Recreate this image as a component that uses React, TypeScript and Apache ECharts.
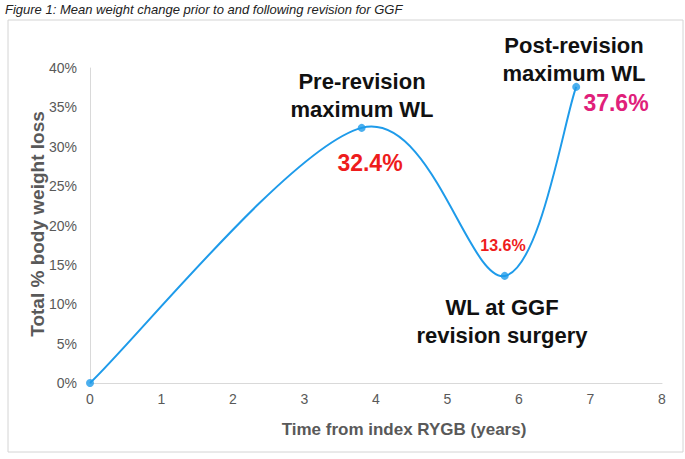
import React, { useEffect, useRef } from "react";
import * as echarts from "echarts";

const years = [0, 3.8, 5.8, 6.8];
const weightLoss = [0, 32.4, 13.6, 37.6];
const xTicks = [0, 1, 2, 3, 4, 5, 6, 7, 8];
const yTicks = [0, 5, 10, 15, 20, 25, 30, 35, 40];

const titleText = "Figure 1: Mean weight change prior to and following revision for GGF";
const font = "'Liberation Sans', Arial, Helvetica, sans-serif";
const blue = "#1E9BEA";

export default function App() {
  const ref = useRef<HTMLDivElement>(null);
  useEffect(() => {
    document.body.style.margin = "0";
    const chart = echarts.init(ref.current!, null, { renderer: "svg" });
    const data = years.map((x, i) => [x, weightLoss[i]]);

    const renderCurve = (params: any, api: any) => {
      if (params.dataIndex !== 0) return null;
      const pts = data.map((d) => api.coord(d));
      const n = pts.length;
      const P = (i: number) => pts[Math.max(0, Math.min(n - 1, i))];
      let d = `M${pts[0][0]},${pts[0][1]}`;
      for (let i = 0; i < n - 1; i++) {
        const p0 = P(i - 1), p1 = P(i), p2 = P(i + 1), p3 = P(i + 2);
        const c1x = p1[0] + (p2[0] - p0[0]) / 6;
        const c1y = p1[1] + (p2[1] - p0[1]) / 6;
        const c2x = p2[0] - (p3[0] - p1[0]) / 6;
        const c2y = p2[1] - (p3[1] - p1[1]) / 6;
        d += ` C${c1x},${c1y} ${c2x},${c2y} ${p2[0]},${p2[1]}`;
      }
      return {
        type: "path",
        shape: { pathData: d },
        style: { fill: "none", stroke: blue, lineWidth: 2 },
      };
    };

    chart.setOption({
      animation: false,
      backgroundColor: "#ffffff",
      textStyle: { fontFamily: font },
      grid: { left: 90, right: 23, top: 68, bottom: 76 },
      xAxis: {
        type: "value",
        min: xTicks[0],
        max: xTicks[xTicks.length - 1],
        interval: 1,
        axisLine: { show: true, lineStyle: { color: "#d9d9d9", width: 1 } },
        axisTick: { show: false },
        splitLine: { show: false },
        axisLabel: { color: "#595959", fontSize: 14, margin: 9, fontFamily: font },
      },
      yAxis: {
        type: "value",
        min: yTicks[0],
        max: yTicks[yTicks.length - 1],
        interval: 5,
        axisLine: { show: true, lineStyle: { color: "#d9d9d9", width: 1 } },
        axisTick: { show: false },
        splitLine: { show: false },
        axisLabel: { color: "#595959", fontSize: 14, margin: 13, formatter: "{value}%", fontFamily: font },
      },
      series: [
        {
          type: "custom",
          data,
          renderItem: renderCurve,
          clip: false,
          z: 2,
        },
        {
          type: "scatter",
          data,
          symbol: "circle",
          symbolSize: 8,
          itemStyle: { color: blue },
          z: 3,
        },
      ],
      graphic: [
        {
          type: "rect",
          shape: { x: 8, y: 20, width: 675, height: 432 },
          style: { fill: "none", stroke: "#d4d4d4", lineWidth: 1 },
        },
        {
          type: "text",
          x: 5,
          y: 9,
          style: { text: titleText, font: `italic 13px ${font}`, fill: "#222", verticalAlign: "middle" },
        },
        {
          type: "text",
          x: 404,
          y: 429,
          style: { text: "Time from index RYGB (years)", font: `bold 17px ${font}`, fill: "#595959", align: "center", verticalAlign: "middle" },
        },
        {
          type: "text",
          x: 37,
          y: 224,
          rotation: Math.PI / 2,
          style: { text: "Total % body weight loss", font: `bold 19px ${font}`, fill: "#595959", align: "center", verticalAlign: "middle" },
        },
        {
          type: "text",
          x: 362,
          y: 95,
          style: { text: "Pre-revision\nmaximum WL", font: `bold 22px ${font}`, fill: "#111", align: "center", verticalAlign: "middle", lineHeight: 28 },
        },
        {
          type: "text",
          x: 370,
          y: 163,
          style: { text: "32.4%", font: `bold 23px ${font}`, fill: "#EE1C1C", align: "center", verticalAlign: "middle" },
        },
        {
          type: "text",
          x: 574,
          y: 59,
          style: { text: "Post-revision\nmaximum WL", font: `bold 22px ${font}`, fill: "#111", align: "center", verticalAlign: "middle", lineHeight: 28 },
        },
        {
          type: "text",
          x: 616,
          y: 103,
          style: { text: "37.6%", font: `bold 23px ${font}`, fill: "#E0207A", align: "center", verticalAlign: "middle" },
        },
        {
          type: "text",
          x: 503,
          y: 245,
          style: { text: "13.6%", font: `bold 16px ${font}`, fill: "#EE1C1C", align: "center", verticalAlign: "middle" },
        },
        {
          type: "text",
          x: 502,
          y: 321,
          style: { text: "WL at GGF\nrevision surgery", font: `bold 22px ${font}`, fill: "#111", align: "center", verticalAlign: "middle", lineHeight: 28 },
        },
      ],
    });
    return () => chart.dispose();
  }, []);
  return <div ref={ref} style={{ width: 685, height: 459 }} />;
}
